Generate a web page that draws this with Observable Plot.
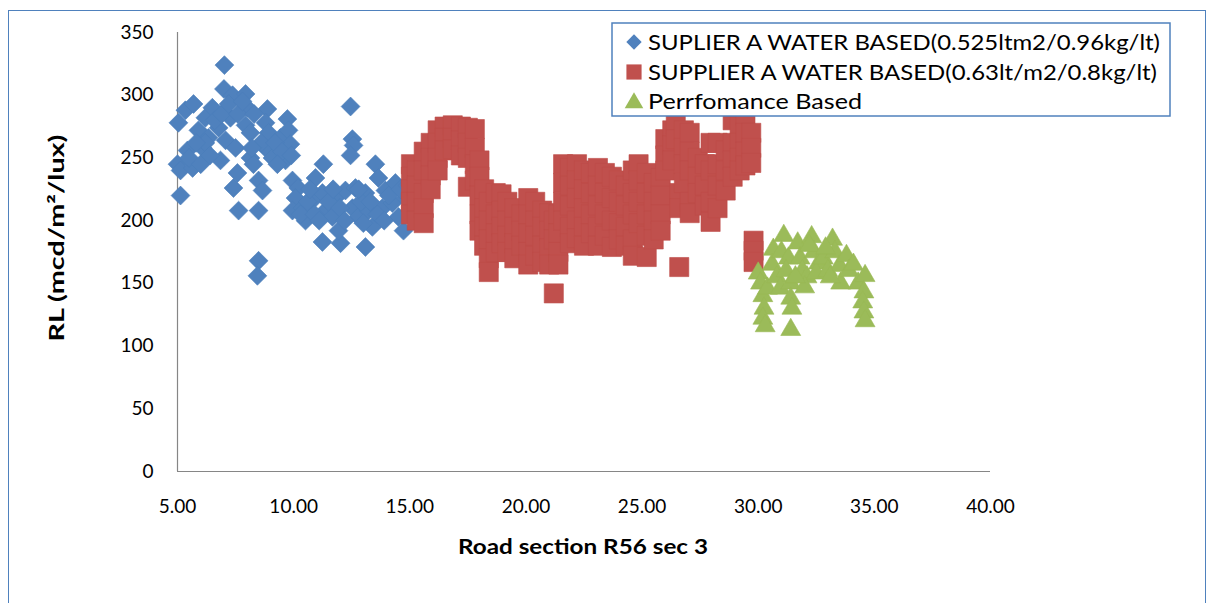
<!DOCTYPE html>
<html><head><meta charset="utf-8">
<script src="https://cdn.jsdelivr.net/npm/d3@7"></script>
<script src="https://cdn.jsdelivr.net/npm/@observablehq/plot@0.6"></script>
<style>
body{margin:0;background:#fff;}
#wrap{position:relative;width:1214px;height:603px;overflow:hidden;background:#fff;}
#frame{position:absolute;left:8px;top:10px;width:1198px;height:640px;border:1.5px solid #4f81bd;box-sizing:border-box;}
#chart{position:absolute;left:0;top:0;}
#overlay{position:absolute;left:0;top:0;pointer-events:none;}
</style></head>
<body><div id="wrap"><div id="frame"></div><div id="chart"></div><svg id="overlay" width="1214" height="603"></svg></div>
<script>
const seriesNames = [
  "SUPLIER A WATER BASED(0.525ltm2/0.96kg/lt)",
  "SUPPLIER A WATER BASED(0.63lt/m2/0.8kg/lt)",
  "Perrfomance Based"
];
const seriesColors = ["#4f81bd", "#c0504d", "#9bbb59"];
const xTicks = [5, 10, 15, 20, 25, 30, 35, 40];
const yTicks = [0, 50, 100, 150, 200, 250, 300, 350];
const xTitle = "Road section R56 sec 3";
const yTitle = "RL  (mcd/m²/lux)";

// [road section, RL]
const supplierA525 = [
  [5.04,278],[5.34,288],[5.69,293],[5.0,245],[5.13,240],[5.13,220],[5.43,256],[5.65,242],[5.9,272],[6.2,282],
  [6.5,290],[6.33,266],[6.08,258],[6.77,274],[6.85,248],[7.0,305],[7.02,324],[7.37,300],[7.28,282],[7.07,264],
  [7.5,258],[7.58,238],[7.41,226],[7.63,208],[7.93,301],[8.01,290],[7.93,276],[8.14,270],[8.14,250],[8.27,245],
  [8.49,232],[8.66,224],[8.49,208],[8.49,168],[8.44,156],[8.87,289],[8.79,278],[8.92,270],[8.79,258],[9.09,250],
  [9.43,266],[9.73,281],[9.78,272],[9.86,261],[9.65,248],[9.95,232],[10.2,226],[10.08,218],[9.95,208],[10.38,210],
  [10.51,200],[10.81,216],[10.94,234],[11.28,245],[11.24,222],[11.37,208],[11.24,183],[11.67,203],[11.8,218],[12.02,182],
  [11.93,192],[12.23,224],[12.53,265],[12.58,260],[12.45,252],[12.45,291],[12.66,226],[12.53,210],[12.79,203],[13.09,222],
  [13.22,208],[13.09,179],[13.39,195],[13.52,245],[13.65,234],[13.95,224],[13.82,210],[14.25,214],[14.38,230],[14.51,203],
  [14.73,192],[14.81,218],[15.1,210],[10.3,205],[10.6,215],[10.9,205],[11.1,200],[11.5,215],[11.7,225],[12.0,210],
  [12.2,200],[12.9,215],[13.3,215],[13.6,205],[13.9,200],[14.1,220],[14.6,225],[14.9,228],[12.8,225],[13.0,198],
  [10.7,225],[5.5,250],[6.0,245],[6.2,262],[6.6,280],[6.9,285],[7.2,293],[7.6,285],[7.8,295],[8.3,285],
  [8.6,262],[8.2,258],[9.2,262],[9.5,255],[9.9,252],[9.3,245],[6.4,252],[5.8,262]
];
const supplierA63 = [
  [15.05,245],[15.05,235],[15.05,225],[15.05,215],[15.05,205],
  [15.3,240],[15.3,228],[15.3,215],[15.3,200],
  [15.6,255],[15.6,240],[15.6,222],[15.6,210],[15.6,198],
  [15.9,262],[15.9,250],[15.9,236],[15.9,225],
  [16.2,272],[16.2,262],[16.2,250],[16.2,240],
  [16.5,275],[16.5,266],[16.5,256],
  [16.85,276],[16.85,266],[16.85,257],
  [17.2,275],[17.2,264],[17.2,252],
  [17.5,274],[17.5,262],[17.5,250],[17.5,227],
  [17.8,273],[17.8,258],[17.8,245],[17.8,232],
  [18.0,248],[18.0,235],[18.0,220],[18.0,205],[18.0,192],
  [18.2,225],[18.2,210],[18.2,195],[18.2,180],
  [18.4,215],[18.4,200],[18.4,185],[18.4,170],[18.4,159],
  [18.7,222],[18.7,205],[18.7,190],[18.7,175],
  [18.95,221],[18.95,208],[18.95,195],[18.95,182],
  [19.2,215],[19.2,200],[19.2,188],[19.2,175],
  [19.5,210],[19.5,195],[19.5,182],[19.5,170],
  [19.8,205],[19.8,192],[19.8,180],
  [20.1,218],[20.1,205],[20.1,190],[20.1,175],[20.1,165],
  [20.4,215],[20.4,200],[20.4,188],[20.4,172],
  [20.7,208],[20.7,195],[20.7,180],[20.7,167],
  [21.0,206],[21.0,192],[21.0,178],[21.0,165],
  [21.2,142],[21.2,200],[21.2,185],
  [21.4,205],[21.4,190],[21.4,175],[21.4,165],
  [21.6,245],[21.6,230],[21.6,215],[21.6,200],
  [21.9,242],[21.9,228],[21.9,212],[21.9,195],[21.9,182],
  [22.2,245],[22.2,232],[22.2,218],[22.2,200],[22.2,186],
  [22.5,240],[22.5,225],[22.5,210],[22.5,195],[22.5,180],
  [22.8,238],[22.8,222],[22.8,205],[22.8,190],
  [23.1,242],[23.1,228],[23.1,212],[23.1,195],[23.1,180],
  [23.4,238],[23.4,222],[23.4,205],[23.4,188],
  [23.7,235],[23.7,218],[23.7,200],[23.7,179],
  [24.0,232],[24.0,215],[24.0,198],[24.0,185],
  [24.3,228],[24.3,212],[24.3,195],[24.3,180],
  [24.6,240],[24.6,222],[24.6,205],[24.6,185],[24.6,172],
  [24.85,245],[24.85,232],[24.85,215],[24.85,198],
  [25.2,238],[25.2,222],[25.2,205],[25.2,188],[25.2,171],
  [25.5,230],[25.5,215],[25.5,200],[25.5,185],
  [25.8,234],[25.8,220],[25.8,205],[25.8,192],
  [26.0,265],[26.0,252],[26.0,240],
  [26.3,272],[26.3,260],[26.3,248],
  [26.45,277],[26.45,265],
  [26.6,222],[26.6,210],[26.6,163],
  [26.8,272],[26.8,258],[26.8,245],[26.8,230],
  [27.05,270],[27.05,255],[27.05,240],[27.05,215],[27.05,206],
  [27.4,250],[27.4,235],[27.4,222],
  [27.7,245],[27.7,228],[27.7,212],
  [27.95,262],[27.95,240],[27.95,215],[27.95,199],
  [28.25,262],[28.25,245],[28.25,228],[28.25,210],
  [28.6,256],[28.6,240],[28.6,224],
  [28.9,280],[28.9,262],[28.9,248],[28.9,235],
  [29.2,275],[29.2,262],[29.2,250],[29.2,240],
  [29.45,284],[29.45,270],[29.45,255],[29.45,244],
  [29.7,270],[29.7,258],[29.7,246],
  [29.8,184],[29.8,176],[29.8,167]
];
const performanceBased = [
  [30.0,158],[30.1,150],[30.2,140],[30.25,130],[30.2,122],[30.3,116],[30.4,146],[30.65,177],[30.6,165],[30.8,155],
  [30.95,146],[31.1,188],[31.0,175],[31.3,170],[31.2,160],[31.4,150],[31.4,138],[31.45,130],[31.4,113],[31.7,182],
  [31.8,170],[31.9,160],[32.1,155],[32.0,147],[32.3,187],[32.4,175],[32.6,166],[32.5,158],[32.8,170],[33.0,160],
  [33.2,185],[33.3,175],[33.5,164],[33.55,150],[33.8,172],[33.9,160],[34.1,165],[34.3,150],[34.6,156],[34.55,143],
  [34.5,135],[34.55,127],[34.6,120],[32.2,180],[31.6,155],[33.1,155],[32.9,178]
];

const toRows = (arr) => arr.map(([x, y]) => ({x, y}));

const plot = Plot.plot({
  width: 1214,
  height: 603,
  marginLeft: 177,
  marginRight: 224,
  marginTop: 32,
  marginBottom: 132,
  style: {fontFamily: "Lato, 'Open Sans', sans-serif", fontSize: "19px", color: "#000", background: "transparent"},
  x: {domain: [5, 40], ticks: xTicks, tickFormat: d3.format(".2f"), tickSize: 0, tickPadding: 28, label: null},
  y: {domain: [0, 350], ticks: yTicks, tickSize: 0, tickPadding: 24, label: null},
  marks: [
    Plot.ruleX([5], {stroke: "#868686", strokeWidth: 1.2}),
    Plot.ruleY([0], {stroke: "#868686", strokeWidth: 1.2}),
    Plot.dot(toRows(supplierA525), {x: "x", y: "y", symbol: "diamond2", r: 8.5, fill: seriesColors[0], stroke: "#4a7ebb", strokeWidth: 0.6}),
    Plot.dot(toRows(supplierA63), {x: "x", y: "y", symbol: "square", r: 10.8, fill: seriesColors[1], stroke: "#be4b48", strokeWidth: 0.6}),
    Plot.dot(toRows(performanceBased), {x: "x", y: "y", symbol: "triangle", r: 7.4, fill: seriesColors[2], stroke: "#98b954", strokeWidth: 0.6})
  ]
});
document.getElementById("chart").appendChild(plot);

// overlay: axis titles and legend
const ov = d3.select("#overlay");
ov.append("text").attr("x", 583).attr("y", 554).attr("text-anchor", "middle")
  .attr("font-family", "Lato, sans-serif").attr("font-weight", "bold").attr("font-size", 21)
  .attr("textLength", 250).attr("lengthAdjust", "spacingAndGlyphs").text(xTitle);
ov.append("text").attr("transform", "translate(64,238) rotate(-90)").attr("text-anchor", "middle")
  .attr("font-family", "Lato, sans-serif").attr("font-weight", "bold").attr("font-size", 21)
  .attr("textLength", 207).attr("lengthAdjust", "spacingAndGlyphs").text(yTitle);

const lg = ov.append("g");
lg.append("rect").attr("x", 612).attr("y", 23).attr("width", 558).attr("height", 93)
  .attr("fill", "#fff").attr("stroke", "#4f81bd").attr("stroke-width", 1.5);
const rowsY = [42, 72, 101];
const textLens = [512, 509, 214];
const syms = [d3.symbolDiamond2, d3.symbolSquare, d3.symbolTriangle];
const symSizes = [150, 230, 150];
seriesNames.forEach((name, i) => {
  lg.append("path").attr("d", d3.symbol(syms[i], symSizes[i])())
    .attr("transform", `translate(634,${rowsY[i] + (i === 2 ? 2 : 0)})`).attr("fill", seriesColors[i]);
  lg.append("text").attr("x", 648).attr("y", rowsY[i] + 8)
    .attr("font-family", "Lato, sans-serif").attr("font-size", 22)
    .attr("textLength", textLens[i]).attr("lengthAdjust", "spacingAndGlyphs").text(name);
});
</script></body></html>
